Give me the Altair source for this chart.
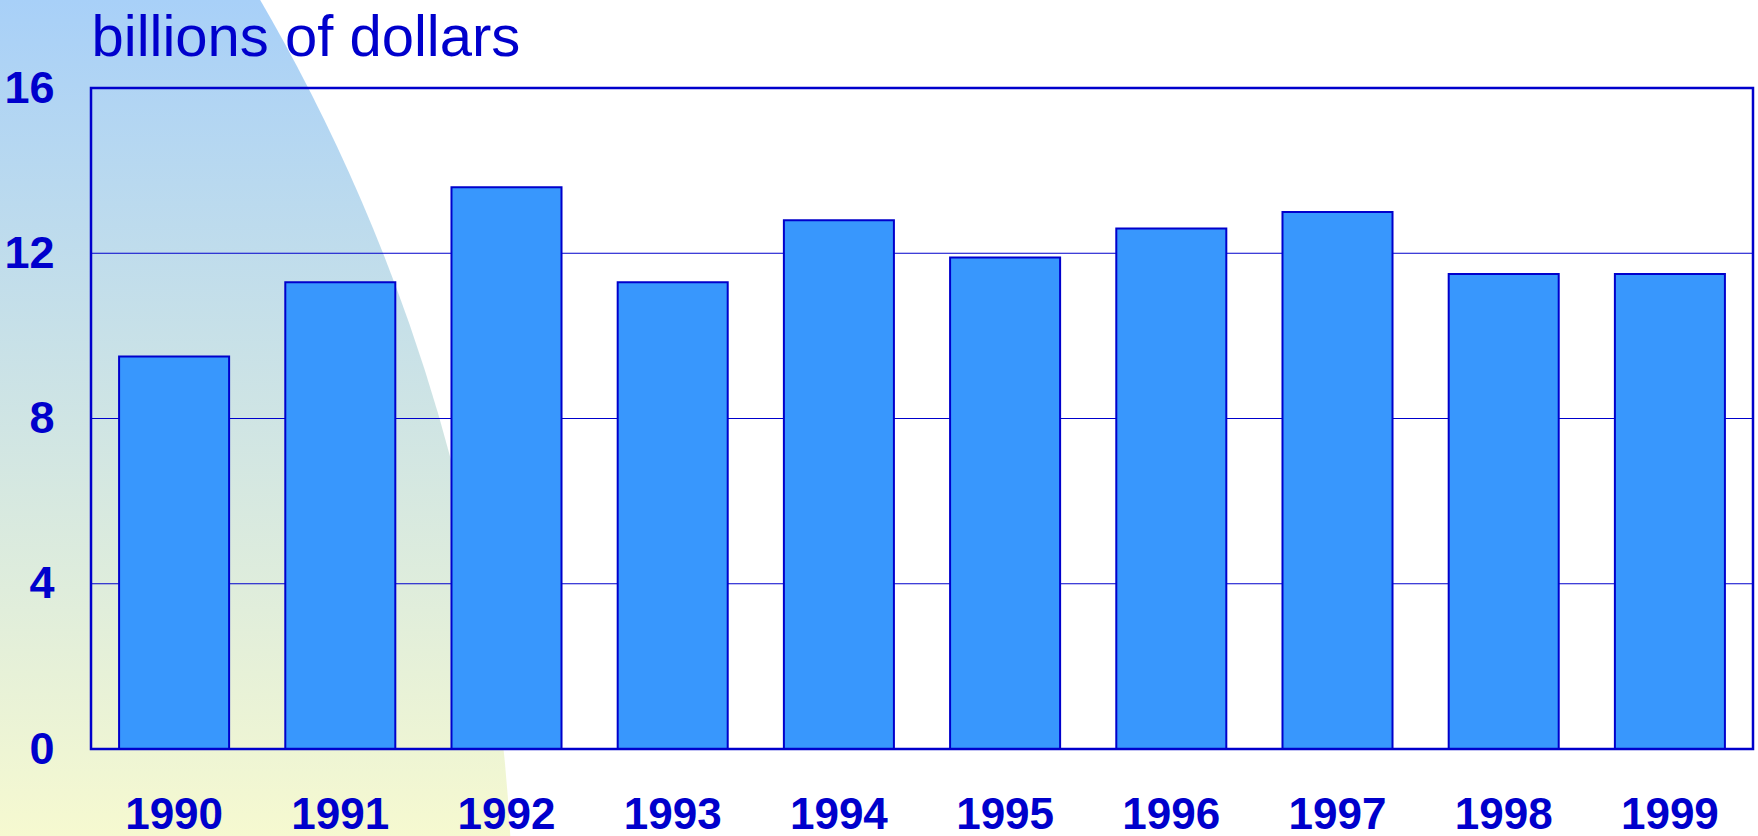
import altair as alt
import pandas as pd

# ---- data ----
years = ["1990", "1991", "1992", "1993", "1994", "1995", "1996", "1997", "1998", "1999"]
values = [9.5, 11.3, 13.6, 11.3, 12.8, 11.9, 12.6, 13.0, 11.5, 11.5]
y_ticks = [0, 4, 8, 12, 16]
grid_lines = [4, 8, 12]
unit_title = "billions of dollars"

BLUE = "#0000CC"
BAR = "#3897FD"
LABEL_FONT = "'Liberation Sans', Arial, sans-serif"

bars_df = pd.DataFrame({"year": years, "value": values})
grid_df = pd.DataFrame({"value": grid_lines})
deco_df = pd.DataFrame({"d": [0]})

W, H = 1662, 661

# decorative curved gradient background on the left
gradient = alt.LinearGradient(
    gradient="linear",
    stops=[
        alt.GradientStop(offset=0, color="#A8D0F8"),
        alt.GradientStop(offset=0.19, color="#A8D0F8"),
        alt.GradientStop(offset=0.913, color="#F6F9D0"),
        alt.GradientStop(offset=1, color="#F6F9D0"),
    ],
    x1=0, x2=0, y1=0, y2=1,
)
deco = alt.Chart(deco_df).mark_arc(
    theta=0.9, theta2=1.5708, radius=1859, fill=gradient, strokeWidth=0
).encode(x=alt.value(-1437), y=alt.value(848))

yscale = alt.Scale(domain=[0, 16], nice=False, zero=True)
yaxis = alt.Axis(
    title=unit_title, titleAngle=0, titleX=0, titleY=-33,
    titleAlign="left", titleBaseline="alphabetic",
    titleFont="'Liberation Sans', Arial, sans-serif", titleFontSize=58,
    titleFontWeight="normal", titleColor=BLUE,
    values=y_ticks, domain=False, ticks=False, grid=False,
    labelFont=LABEL_FONT, labelFontSize=45, labelFontWeight="bold",
    labelColor=BLUE, labelPadding=37, zindex=1,
)

grid = alt.Chart(grid_df).mark_rule(color=BLUE, strokeWidth=1).encode(
    y=alt.Y("value:Q", scale=yscale, axis=yaxis)
)

bars = alt.Chart(bars_df).mark_bar(fill=BAR, stroke=BLUE, strokeWidth=2).encode(
    x=alt.X(
        "year:N",
        sort=years,
        scale=alt.Scale(paddingInner=0.338, paddingOuter=0.169),
        axis=alt.Axis(
            title=None, labelAngle=0, domain=False, ticks=False, grid=False,
            labelFont=LABEL_FONT, labelFontSize=44, labelFontWeight="bold",
            labelColor=BLUE, labelPadding=79, labelBaseline="alphabetic", zindex=1,
        ),
    ),
    y=alt.Y("value:Q", scale=yscale, axis=yaxis),
)

frame = alt.Chart(deco_df).mark_rect(filled=False, stroke=BLUE, strokeWidth=2.5).encode(
    x=alt.value(0), x2=alt.value("width"), y=alt.value(0), y2=alt.value("height")
)

chart = alt.layer(deco, grid, bars, frame).properties(
    width=W,
    height=H,
    autosize=alt.AutoSizeParams(type="none"),
    padding={"left": 91, "top": 88, "right": 5, "bottom": 87},
    background="white",
).configure_view(stroke="transparent")

chart.save("out.html", embed_options={"renderer": "svg", "actions": False})
